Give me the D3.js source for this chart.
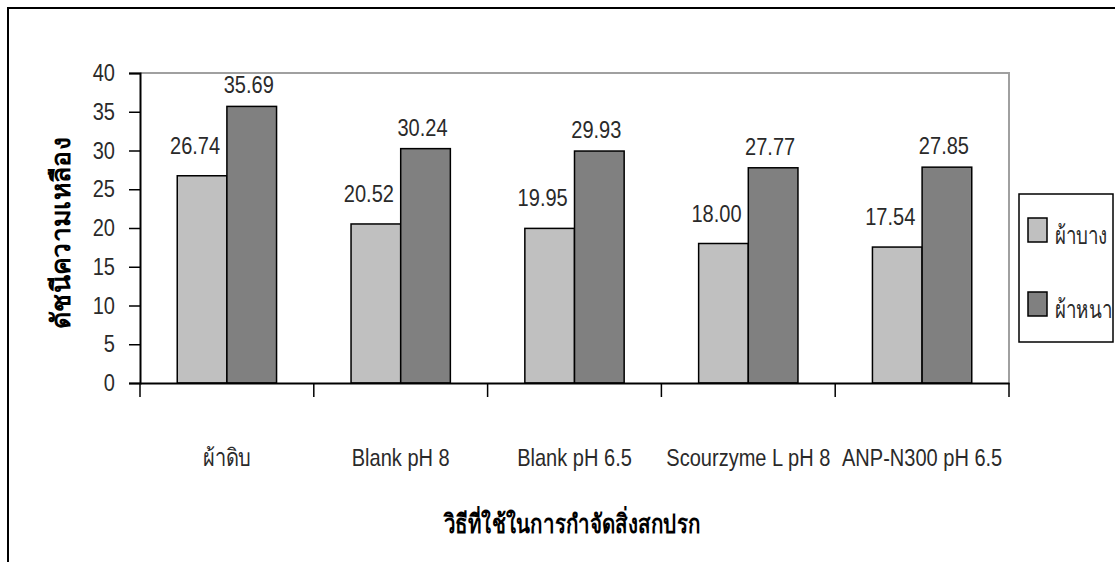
<!DOCTYPE html>
<html><head><meta charset="utf-8">
<script src="https://cdn.jsdelivr.net/npm/d3@7"></script>
<style>
body{margin:0;background:#fff;}
text{font-family:"Liberation Sans","Arial",sans-serif;}
</style></head>
<body><svg id="c" width="1115" height="562"></svg>
<script>
const categories = ["ผ้าดิบ","Blank pH 8","Blank pH 6.5","Scourzyme L pH 8","ANP-N300 pH 6.5"];
const seriesNames = ["ผ้าบาง","ผ้าหนา"];
const thinValues = [26.74,20.52,19.95,18.00,17.54];
const thickValues = [35.69,30.24,29.93,27.77,27.85];
const yTicks = [0,5,10,15,20,25,30,35,40];
const yTitle = "ดัชนีความเหลือง";
const xTitle = "วิธีที่ใช้ในการกำจัดสิ่งสกปรก";

(function(){
const colors = ["#C0C0C0","#808080"];
const FS = 24, SX = 0.835, TXT = "#2a2a2a";
const labelDx = [-7,-3], labelDy = [22,13];
const svg = d3.select("#c");
const W=1115,H=562;
svg.append("path").attr("d",`M8,${H+2}V8H${W+2}`).attr("fill","none").attr("stroke","#000").attr("stroke-width",2);

const pl=140,pr=1009,pt=73,pb=383;
const x = d3.scaleBand().domain(categories).range([pl,pr]).paddingInner(0).paddingOuter(0);
const inner = d3.scaleBand().domain(seriesNames).range([0,x.bandwidth()]).paddingInner(0).paddingOuter(0.75);
const y = d3.scaleLinear().domain([0,40]).range([pb,pt]);

svg.append("path").attr("d",`M${pl},${pt}H${pr}V${pb}`).attr("fill","none").attr("stroke","#A0A0A0").attr("stroke-width",2);

function ctext(parent, tx, ty, str, anchor, sx, fs){
  return parent.append("g").attr("transform",`translate(${tx},${ty}) scale(${sx},1)`)
    .append("text").attr("text-anchor",anchor).attr("font-size",fs).attr("fill",TXT).text(str);
}

const data = categories.map((c,i)=>({cat:c,vals:[thinValues[i],thickValues[i]]}));
const g = svg.append("g");
data.forEach(d=>{
  d.vals.forEach((v,j)=>{
    const bx = x(d.cat)+inner(seriesNames[j]);
    g.append("rect").attr("x",bx).attr("y",y(v)).attr("width",inner.bandwidth()).attr("height",y(0)-y(v))
      .attr("fill",colors[j]).attr("stroke","#000").attr("stroke-width",1.5);
    ctext(g, bx+inner.bandwidth()/2+labelDx[j], y(v)-labelDy[j], v.toFixed(2), "middle", SX, FS);
  });
});

const ya = svg.append("g").attr("transform",`translate(${pl},0)`).call(d3.axisLeft(y).tickValues(yTicks).tickSize(11).tickPadding(14));
ya.select(".domain").attr("stroke","#000").attr("stroke-width",2);
ya.selectAll(".tick line").attr("stroke","#000").attr("stroke-width",1.5);
ya.selectAll(".tick text").attr("font-size",FS).attr("fill",TXT).attr("font-family",null)
  .attr("x",-25/SX).attr("transform",`scale(${SX},1)`);

const xa = svg.append("g").attr("transform",`translate(0,${pb})`).call(d3.axisBottom(x).tickSize(0).tickPadding(83));
xa.select(".domain").attr("stroke","#000").attr("stroke-width",2);
xa.selectAll(".tick text").attr("font-size",FS).attr("fill",TXT).attr("font-family",null)
  .attr("dy",null).attr("transform",`scale(${SX},1)`);
const bounds = categories.map(c=>x(c)).concat([x(categories[categories.length-1])+x.bandwidth()]);
xa.selectAll(".bt").data(bounds).enter().append("line").attr("class","bt")
  .attr("x1",d=>d).attr("x2",d=>d).attr("y1",0).attr("y2",14).attr("stroke","#000").attr("stroke-width",1.5);

svg.append("text").attr("x",572).attr("y",533).attr("text-anchor","middle")
  .attr("font-size",26).attr("font-weight","bold").attr("fill","#000")
  .attr("textLength",257).attr("lengthAdjust","spacingAndGlyphs").text(xTitle);
svg.append("text").attr("transform",`translate(70,233) rotate(-90)`).attr("text-anchor","middle")
  .attr("font-size",26).attr("font-weight","bold").attr("fill","#000")
  .attr("textLength",192).attr("lengthAdjust","spacingAndGlyphs").text(yTitle);

const lg = svg.append("g");
lg.append("rect").attr("x",1019).attr("y",194).attr("width",94).attr("height",148).attr("fill","#fff").attr("stroke","#000").attr("stroke-width",1.5);
seriesNames.forEach((s,j)=>{
  const yy = 218 + j*74;
  lg.append("rect").attr("x",1028).attr("y",yy).attr("width",19).attr("height",24).attr("fill",colors[j]).attr("stroke","#000").attr("stroke-width",1.5);
  ctext(lg, 1055, yy+26, s, "start", 0.75, 25);
});
})();
</script></body></html>
